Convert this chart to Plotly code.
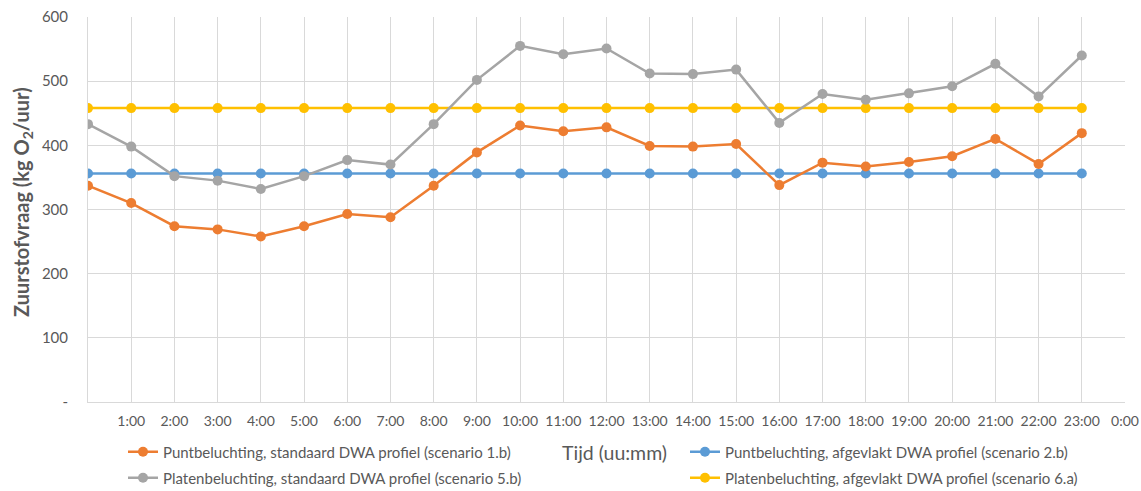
import plotly.graph_objects as go

hours = list(range(24))
tick_hours = list(range(1, 25))
tick_labels = [f"{h}:00" for h in range(1, 24)] + ["0:00"]

punt_standaard = [337, 310, 274, 269, 258, 274, 293, 288, 337, 389, 431, 422, 428,
                  399, 398, 402, 338, 373, 367, 374, 383, 410, 371, 419]
punt_afgevlakt = [356] * 24
platen_standaard = [433, 398, 352, 345, 332, 352, 377, 370, 433, 502, 555, 542, 551,
                    512, 511, 518, 435, 480, 471, 481, 492, 527, 476, 540]
platen_afgevlakt = [458] * 24

names = [
    "Puntbeluchting, standaard DWA profiel (scenario 1.b)",
    "Puntbeluchting, afgevlakt DWA profiel (scenario 2.b)",
    "Platenbeluchting, standaard DWA profiel (scenario 5.b)",
    "Platenbeluchting, afgevlakt DWA profiel (scenario 6.a)",
]
colors = ["#ED7D31", "#5B9BD5", "#A5A5A5", "#FFC000"]
series = [punt_standaard, punt_afgevlakt, platen_standaard, platen_afgevlakt]
legend_ids = ["legend", "legend2", "legend3", "legend4"]
# legend anchor positions (px) : left x, text center y
legend_pos = [(123, 452), (685, 452), (123, 478), (685, 478)]

FONT = "Lato, 'Open Sans', sans-serif"
W, H = 1141, 491
ml, mr, mt, mb = 88, 16, 17, 89

fig = go.Figure()
for i in [1, 3, 0, 2]:
    fig.add_trace(go.Scatter(
        x=hours, y=series[i], name=names[i], mode="lines+markers",
        line=dict(color=colors[i], width=2.5),
        marker=dict(color=colors[i], size=10),
        legend=legend_ids[i],
    ))

legend_layout = {}
for i, lid in enumerate(legend_ids):
    px, py = legend_pos[i]
    legend_layout[lid] = dict(
        xref="container", yref="container",
        x=px / W, y=1 - py / H, xanchor="left", yanchor="middle",
        orientation="v", font=dict(size=15, color="#595959"),
        bgcolor="rgba(0,0,0,0)", itemwidth=30,
    )

fig.update_layout(
    width=W, height=H,
    margin=dict(l=ml, r=mr, t=mt, b=mb, autoexpand=False),
    paper_bgcolor="white", plot_bgcolor="white",
    font=dict(family=FONT, color="#595959", size=13),
    showlegend=True,
    **legend_layout,
    xaxis=dict(range=[0, 24], tickvals=tick_hours, ticktext=tick_labels,
               showgrid=True, gridcolor="#D9D9D9", gridwidth=1,
               showline=True, linecolor="#D9D9D9", mirror=False,
               zeroline=False, ticks="", ticklabelstandoff=6,
               tickfont=dict(size=14, color="#595959"), automargin=False),
    yaxis=dict(range=[0, 600], tickvals=[0, 100, 200, 300, 400, 500, 600],
               ticktext=["-", "100", "200", "300", "400", "500", "600"],
               showgrid=True, gridcolor="#D9D9D9", gridwidth=1,
               showline=True, linecolor="#D9D9D9", zeroline=False,
               ticks="", ticklabelstandoff=16, automargin=False,
               tickfont=dict(size=15, color="#595959")),
    annotations=[
        dict(text="<b>Zuurstofvraag (kg O<sub>2</sub>/uur)</b>", textangle=-90,
             xref="paper", yref="paper", x=-(88 - 22) / (W - ml - mr),
             y=(402 - 202) / (402 - mt),
             xanchor="center", yanchor="middle", showarrow=False,
             font=dict(size=20, color="#595959", family=FONT)),
        dict(text="Tijd (uu:mm)", xref="paper", yref="paper",
             x=(614 - ml) / (W - ml - mr), y=-(452 - 402) / (402 - mt),
             xanchor="center", yanchor="middle", showarrow=False,
             font=dict(size=19.5, color="#595959", family=FONT)),
    ],
)
fig.write_html("out.html")
